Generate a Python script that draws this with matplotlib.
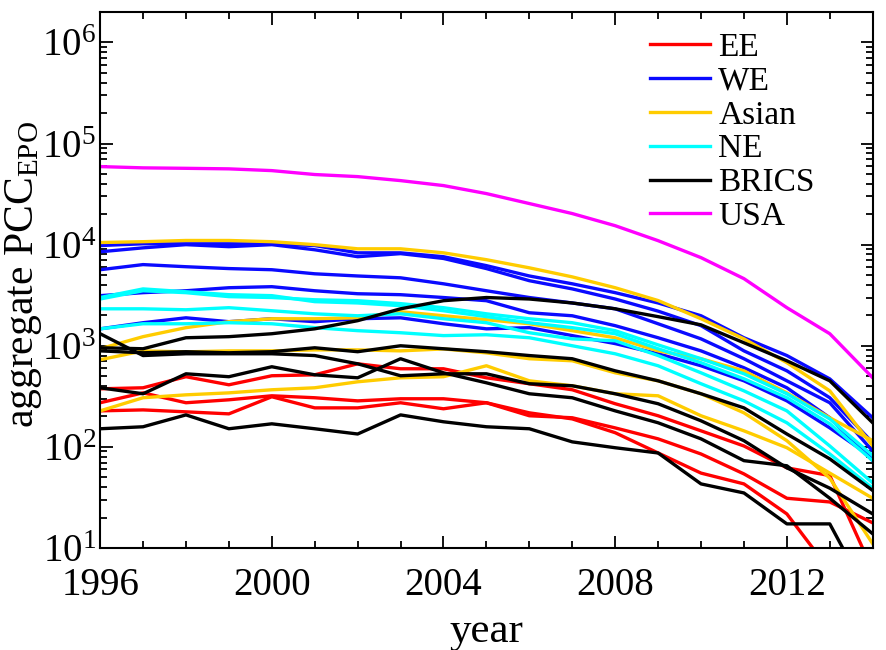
import numpy as np
import matplotlib
matplotlib.use("Agg")
import matplotlib.pyplot as plt
from matplotlib.ticker import MultipleLocator, LogLocator, NullFormatter

plt.rcParams['font.family'] = ['Liberation Serif', 'DejaVu Serif']
plt.rcParams['mathtext.fontset'] = 'custom'
plt.rcParams['mathtext.rm'] = 'Liberation Serif'
plt.rcParams['mathtext.it'] = 'Liberation Serif:italic'

years = list(range(1996, 2015))

# Eastern Europe
ee = [
    [375, 384, 494, 411, 505, 516, 663, 592, 592, 482, 421, 367, 267, 203, 144, 102, 62, 52, 6],
    [273, 342, 273, 292, 320, 306, 285, 299, 299, 273, 203, 194, 154, 120, 85, 54, 31, 28.5, 17.7],
    [227, 232, 222, 212, 313, 243, 243, 273, 238, 273, 217, 189, 138, 87, 55, 43, 21.7, 6, 1],
]
# Western Europe
we = [
    [9800, 10200, 10200, 10200, 10200, 9800, 8300, 8300, 7600, 6200, 4900, 4100, 3350, 2650, 1980, 1200, 800, 470, 194],
    [8500, 9300, 10000, 9550, 10000, 8900, 7600, 8150, 7300, 5800, 4400, 3650, 2900, 2200, 1580, 890, 565, 306, 110],
    [5650, 6350, 6050, 5800, 5650, 5150, 4900, 4700, 4100, 3500, 3000, 2650, 2320, 1650, 1170, 744, 450, 273, 91],
    [3130, 3350, 3500, 3750, 3840, 3500, 3270, 3200, 3000, 2790, 2120, 1980, 1580, 1200, 890, 606, 384, 194, 73],
    [1470, 1690, 1890, 1730, 1850, 1730, 1850, 1890, 1650, 1470, 1510, 1260, 1050, 833, 634, 450, 285, 154, 78],
]
asian = [
    [10500, 10700, 11000, 11000, 10700, 10000, 9100, 9100, 8300, 7100, 5900, 4800, 3750, 2800, 1850, 1170, 680, 358, 102],
    [934, 1230, 1510, 1730, 1850, 1850, 1890, 2170, 1980, 1810, 1650, 1410, 1200, 890, 744, 565, 342, 194, 115],
    [727, 890, 870, 890, 890, 910, 910, 890, 930, 850, 744, 710, 540, 450, 335, 217, 115, 49, 11],
    [227, 306, 327, 342, 367, 384, 440, 482, 494, 634, 450, 402, 335, 320, 203, 144, 98, 55, 31],
]
# Northern Europe
ne = [
    [3000, 3650, 3420, 3200, 3130, 2730, 2650, 2490, 2220, 1940, 1690, 1510, 1315, 934, 680, 471, 306, 169, 73],
    [2900, 3500, 3350, 3060, 3000, 2850, 2790, 2610, 2380, 2070, 1850, 1690, 1410, 1020, 744, 528, 335, 189, 82],
    [2320, 2320, 2270, 2380, 2220, 2070, 1980, 2070, 1850, 1690, 1345, 1170, 1120, 800, 540, 358, 227, 102, 44],
    [1470, 1650, 1650, 1690, 1650, 1510, 1410, 1345, 1260, 1285, 1200, 1000, 833, 634, 421, 285, 173, 85, 39],
]
brics = [
    [955, 934, 1200, 1230, 1315, 1470, 1770, 2320, 2790, 3000, 2900, 2650, 2320, 1940, 1610, 1070, 710, 450, 173],
    [1315, 800, 833, 833, 833, 800, 663, 505, 528, 528, 421, 402, 335, 267, 181, 115, 62, 39, 21.7],
    [890, 852, 873, 852, 873, 955, 873, 1000, 934, 873, 800, 744, 565, 450, 335, 243, 134, 76, 37],
    [384, 335, 528, 494, 620, 516, 482, 744, 540, 430, 335, 306, 227, 173, 120, 73, 65, 31, 13.8],
    [151, 158, 207, 151, 169, 151, 134, 207, 177, 158, 151, 112, 98, 87, 43, 35, 17.3, 17.3, 2.8],
]
usa = [59200, 57500, 56900, 56200, 54000, 49400, 47100, 43000, 38400, 32000,
       25500, 20300, 15400, 10950, 7440, 4610, 2380, 1315, 482]

groups = [("EE", ee, "#ff0000"), ("WE", we, "#0a0aff"), ("Asian", asian, "#ffcc00"),
          ("NE", ne, "#00ffff"), ("BRICS", brics, "#000000"), ("USA", [usa], "#ff00ff")]

fig = plt.figure(figsize=(8.86, 6.5), dpi=100)
ax = fig.add_axes([0.113, 0.157, 0.872, 0.8245])

for name, lines, col in groups:
    for i, vals in enumerate(lines):
        ax.plot(years, vals, color=col, lw=2.4, label=name if i == 0 else None)

ax.set_yscale('log')
ax.set_xlim(1996, 2014)
ax.set_ylim(10, 2e6)
ax.xaxis.set_major_locator(MultipleLocator(4))
ax.xaxis.set_minor_locator(MultipleLocator(1))
ax.yaxis.set_major_locator(LogLocator(base=10, numticks=10))
ax.yaxis.set_minor_locator(LogLocator(base=10, subs=np.arange(2, 10), numticks=20))
ax.yaxis.set_minor_formatter(NullFormatter())
ax.tick_params(which='both', direction='in', top=True, right=True, width=1.3)
ax.tick_params(which='major', length=9, labelsize=28)
ax.tick_params(which='minor', length=5)
ax.tick_params(axis='x', which='major', pad=14)
ax.tick_params(axis='y', which='major', pad=3)
for s in ax.spines.values():
    s.set_linewidth(1.5)

ax.set_xlabel('year', fontsize=31)
ax.xaxis.set_label_coords(0.5, -0.12)
ax.set_ylabel(r'aggregate PCC$_{\mathrm{EPO}}$', fontsize=30)
ax.yaxis.set_label_coords(-0.072, 0.51)

ax.legend(loc='upper left', bbox_to_anchor=(0.69, 0.993), frameon=False, fontsize=24,
          handlelength=1.8, handletextpad=0.25, labelspacing=0.1, borderpad=0)

fig.savefig('out.png', dpi=100)
